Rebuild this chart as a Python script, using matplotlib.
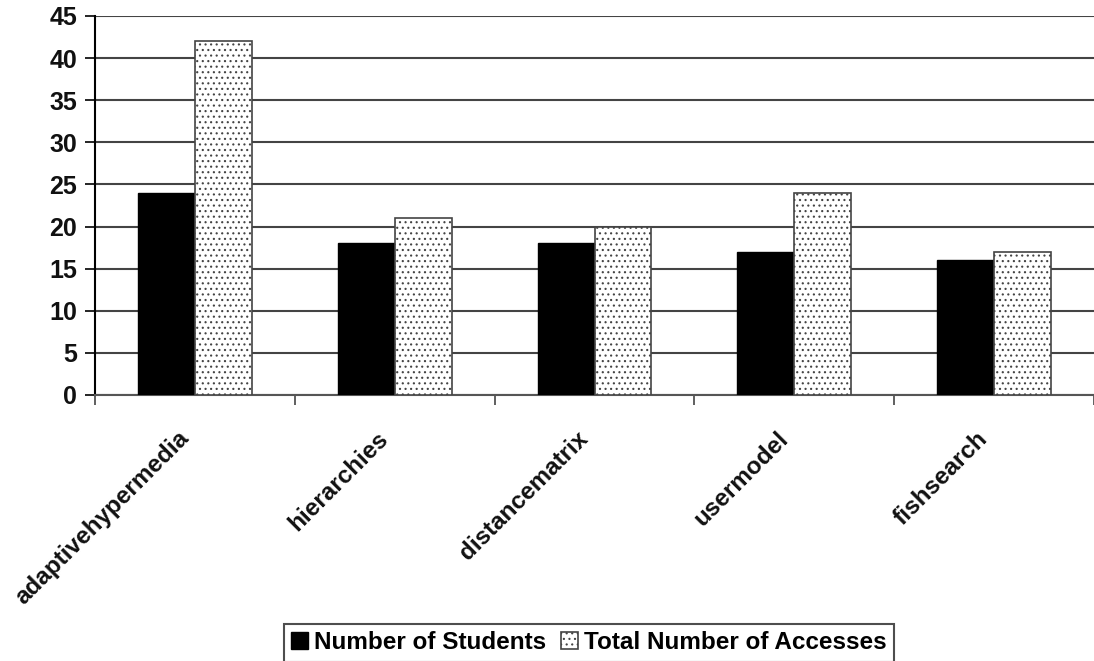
import matplotlib
matplotlib.use("Agg")
import matplotlib.pyplot as plt
import matplotlib.transforms as mtransforms
import numpy as np

categories = ["adaptivehypermedia", "hierarchies", "distancematrix", "usermodel", "fishsearch"]
students = [24, 18, 18, 17, 16]
accesses = [42, 21, 20, 24, 17]
yticks = [0, 5, 10, 15, 20, 25, 30, 35, 40, 45]

plt.rcParams['font.family'] = ['Liberation Sans', 'DejaVu Sans']
plt.rcParams['hatch.color'] = '#888888'
plt.rcParams['hatch.linewidth'] = 0.8

fig = plt.figure(figsize=(10.94, 6.61), dpi=100)
ax = fig.add_axes([95/1094, 1-395/661, 1-95/1094, (395-16)/661])

x = np.arange(len(categories))
w = 0.285
ax.bar(x - w/2, students, w, color='black', edgecolor='black', linewidth=1, zorder=3,
       label='Number of Students')
ax.bar(x + w/2, accesses, w, color='white', edgecolor='#444444', linewidth=1.2, hatch='...',
       zorder=3, label='Total Number of Accesses')

ax.set_xlim(-0.5, len(categories) - 0.5)
ax.set_ylim(0, 45)
ax.set_yticks(yticks)
ax.set_yticklabels([str(v) for v in yticks], fontsize=18, fontweight='bold', color='#111111')
ax.yaxis.grid(True, color='#444444', linewidth=1.5, zorder=0)
ax.set_axisbelow(True)

ax.set_xticks(np.arange(len(categories) + 1) - 0.5)
ax.set_xticklabels([])
ax.set_xticks(x, minor=True)
ax.set_xticklabels(categories, minor=True, rotation=45, ha='right', rotation_mode='anchor',
                   fontsize=17.5, fontweight='bold', color='#111111')
ax.tick_params(axis='x', which='minor', length=0, pad=23)
ax.tick_params(axis='x', which='major', length=7, width=1.2, color='#444444', direction='out')
ax.tick_params(axis='y', length=7, width=1.2, direction='out', pad=6)
shift = mtransforms.ScaledTranslation(-18/100, 0, fig.dpi_scale_trans)
for lbl in ax.get_xticklabels(minor=True):
    lbl.set_transform(lbl.get_transform() + shift)

for s in ['top', 'right']:
    ax.spines[s].set_visible(False)
ax.spines['left'].set_linewidth(1.5)
ax.spines['bottom'].set_linewidth(1.5)
ax.spines['bottom'].set_color('#555555')

leg = fig.legend(loc='upper center', bbox_to_anchor=(589/1094, 1-624/661), ncol=2, frameon=True,
                 fancybox=False, edgecolor='#222222', prop={'weight': 'bold', 'size': 17.5},
                 handlelength=0.7, handleheight=0.7, handletextpad=0.25, columnspacing=0.6,
                 borderpad=0.3, borderaxespad=0)
leg.get_frame().set_linewidth(1.5)

fig.savefig('out.png', dpi=100)
